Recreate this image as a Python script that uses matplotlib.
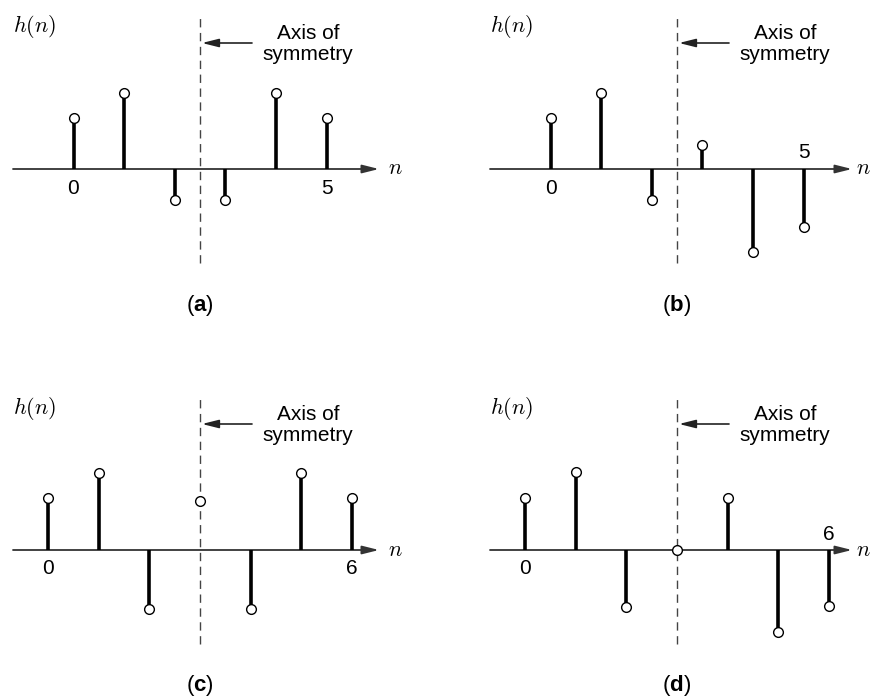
import matplotlib
matplotlib.use("Agg")
import matplotlib.pyplot as plt

plt.rcParams['font.family'] = ['Liberation Sans', 'DejaVu Sans']
plt.rcParams['mathtext.fontset'] = 'custom'
plt.rcParams['mathtext.rm'] = 'Liberation Sans'
plt.rcParams['mathtext.bf'] = 'Liberation Sans:bold'
plt.rcParams['mathtext.it'] = 'Liberation Sans:italic'

# ---- data (sample values, arbitrary units) ----
h_a = [51, 76, -31, -31, 76, 51]
h_b = [51, 76, -31, 24, -83, -58]
h_c = [52, 77, -59, 49, -59, 77, 52]
h_d = [52, 78, -57, 0, 52, -82, -56]
panel_labels = ['a', 'b', 'c', 'd']
end_labels = ['5', '5', '6', '6']

panels = [h_a, h_b, h_c, h_d]

W_FIG, H_FIG = 873, 697
fig = plt.figure(figsize=(W_FIG / 100, H_FIG / 100), dpi=100)

S = 50.6  # px per sample
AX_W = 436

def make_axes(col, row):
    x0 = 0 if col == 0 else 437
    if row == 0:
        y0, h = 349, 348
        axis_px = 169
    else:
        y0, h = 0, 349
        axis_px = 202
    ax = fig.add_axes([x0 / W_FIG, y0 / H_FIG, AX_W / W_FIG, h / H_FIG])
    ax.set_ylim(-(h - axis_px), axis_px)
    ax.axis('off')
    return ax

ARROW = '-|>,head_length=1.0,head_width=0.25'

for i, vals in enumerate(panels):
    col, row = i % 2, i // 2
    ax = make_axes(col, row)
    N = len(vals)
    M = (N - 1) / 2
    cx = 200 if col == 0 else 240
    ax.set_xlim(M - cx / S, M + (AX_W - cx) / S)

    x_start = M - 187 / S
    x_end = M + 179 / S if col == 0 else M + 175 / S
    # horizontal axis with arrow
    ax.annotate('', xy=(x_end, 0), xytext=(x_start, 0),
                arrowprops=dict(arrowstyle=ARROW, lw=1.3, color='#333333',
                                shrinkA=0, shrinkB=0),
                zorder=2)
    n_gap = 9 if col == 0 else 4
    ax.text(x_end + n_gap / S, 0, r'$n$', math_fontfamily='cm', fontsize=16,
            ha='left', va='center')

    # axis of symmetry
    ax.plot([M, M], [-94, 156], ls=(0, (6, 4)), lw=1.0, color='#444444', zorder=1)
    ax.annotate('', xy=(M + 2 / S, 126), xytext=(M + 52 / S, 126),
                arrowprops=dict(arrowstyle=ARROW, lw=1.2, color='#222222',
                                shrinkA=0, shrinkB=0))
    ax.text(M + 108 / S, 125, 'Axis of\nsymmetry', fontsize=15,
            ha='center', va='center', linespacing=1.15)

    # h(n) label
    ax.text(x_start, 142, r'$h(n)$', math_fontfamily='cm', fontsize=16,
            ha='left', va='center')

    # stems
    for n, v in enumerate(vals):
        if n != M:
            ax.vlines(n, 0, v, lw=2.6, color='black', zorder=3)
    ax.plot(range(N), vals, 'o', mfc='white', mec='black', ms=7, mew=1.0,
            zorder=5, clip_on=False)

    # tick labels
    ax.text(0, -19 if vals[0] >= 0 else 16, '0', fontsize=15,
            ha='center', va='center')
    ax.text(N - 1, -19 if vals[-1] >= 0 else 16, end_labels[i], fontsize=15,
            ha='center', va='center')

    # panel label
    ax.text(M, -136, r'($\mathbf{%s}$)' % panel_labels[i], fontsize=16,
            ha='center', va='center')

fig.savefig('out.png', dpi=100)
